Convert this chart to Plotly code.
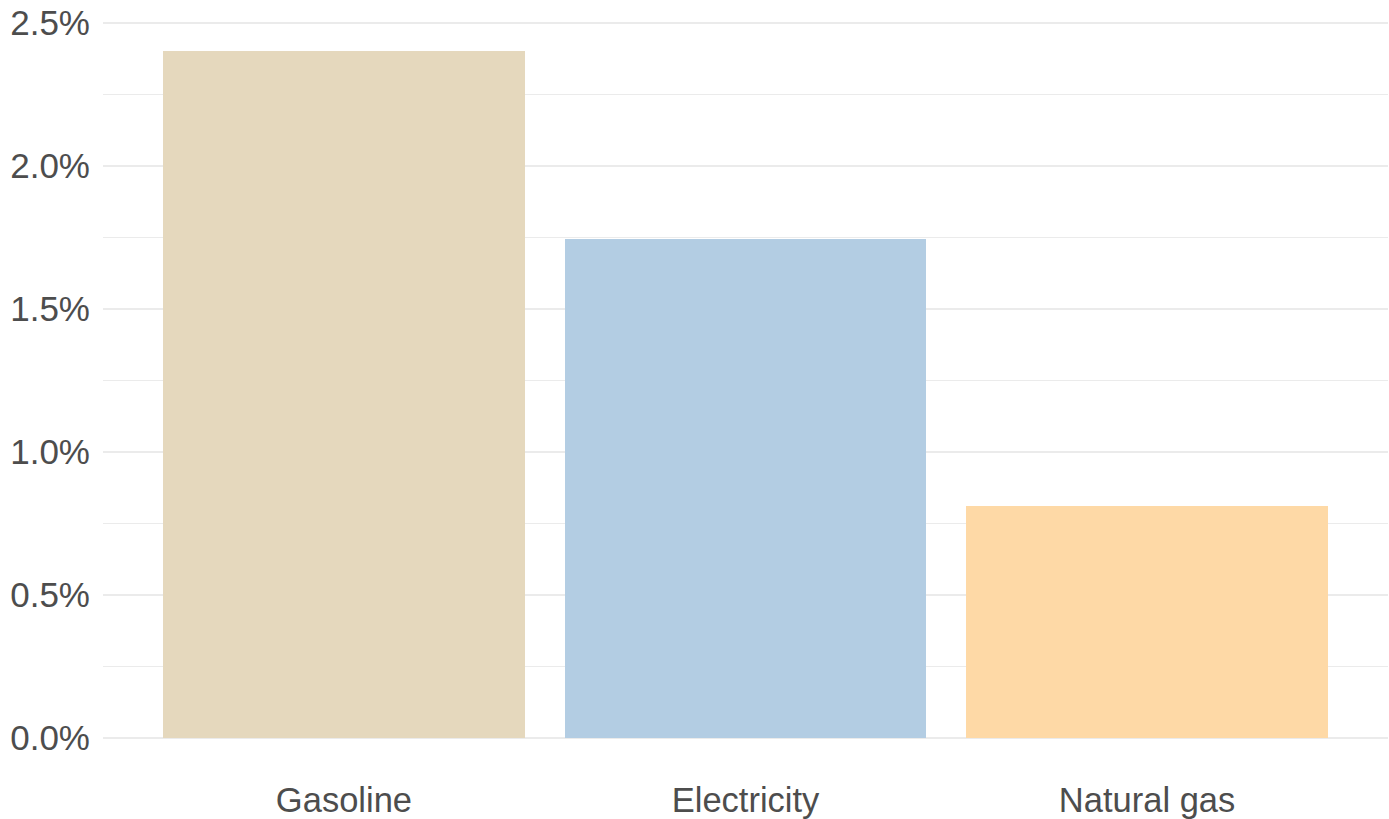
import plotly.graph_objects as go

categories = ["Gasoline", "Electricity", "Natural gas"]
values = [0.0240, 0.01745, 0.0081]
colors = ["#E5D8BD", "#B3CDE3", "#FED9A6"]
y_ticks = [0, 0.005, 0.01, 0.015, 0.02, 0.025]

fig = go.Figure(go.Bar(
    x=categories, y=values, marker=dict(color=colors, line=dict(width=0)),
    width=0.9, hoverinfo="skip"
))

font_family = "Liberation Sans, Arial, sans-serif"
fig.update_layout(
    width=1389, height=819,
    margin=dict(l=102.5, r=1, t=17, b=47.4),
    plot_bgcolor="white", paper_bgcolor="white",
    showlegend=False,
    font=dict(family=font_family, size=35, color="#4D4D4D"),
    bargap=0,
)
fig.update_xaxes(
    range=[-0.6, 2.6], showgrid=False, zeroline=False, showline=False,
    ticks="", tickfont=dict(size=34.5, color="#4D4D4D"), automargin=False,
    ticklabelstandoff=4,
)
fig.update_yaxes(
    range=[-0.0012, 0.0252], tickvals=y_ticks, tickformat=".1%",
    showgrid=True, gridcolor="#EBEBEB", gridwidth=2,
    minor=dict(dtick=0.0025, tick0=0, showgrid=True, gridcolor="#EBEBEB", gridwidth=1),
    zeroline=False, showline=False, ticks="",
    tickfont=dict(size=35, color="#4D4D4D"), automargin=False,
    ticklabelstandoff=12, ticklabeloverflow="allow",
)
fig.write_html(
    "out.html",
    config={"displayModeBar": False},
    post_script="document.body.style.margin='0';document.body.style.overflow='hidden';",
)
